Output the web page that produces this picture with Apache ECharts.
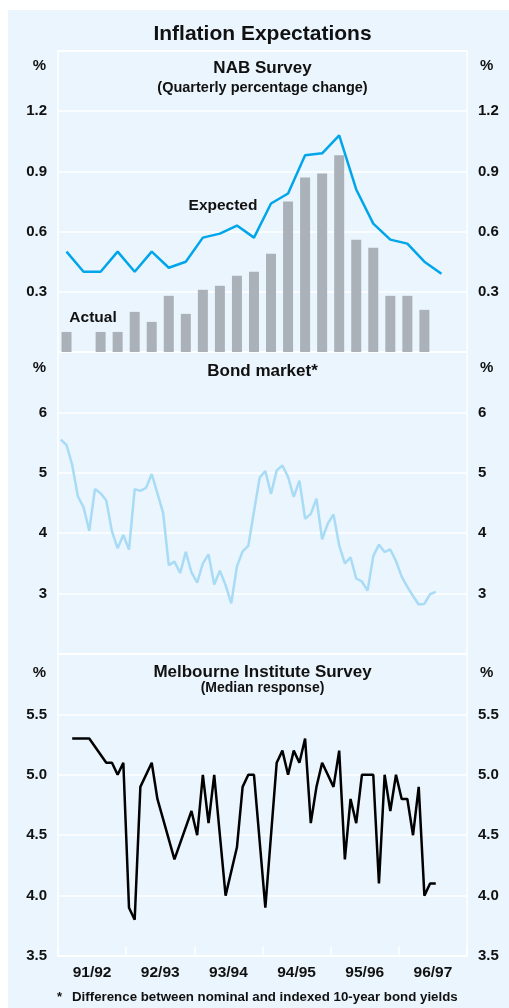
<!DOCTYPE html>
<html>
<head>
<meta charset="utf-8">
<script src="https://cdn.jsdelivr.net/npm/echarts@6/dist/echarts.min.js"></script>
<style>
  html, body { margin: 0; padding: 0; background: #ffffff; }
  #wrap { position: relative; width: 509px; height: 1008px; overflow: hidden; background: #ffffff; }
  #bg { position: absolute; left: 8px; top: 10px; right: 0; bottom: 0; background: #EBF5FD; }
  #chart { position: absolute; left: 0; top: 0; width: 509px; height: 1008px; }
</style>
</head>
<body>
<div id="wrap"><div id="bg"></div><div id="chart"></div></div>
<script>
// ---- Data ----
const fiscalYears = ['91/92', '92/93', '93/94', '94/95', '95/96', '96/97'];
const monthNames = ['Jul', 'Aug', 'Sep', 'Oct', 'Nov', 'Dec', 'Jan', 'Feb', 'Mar', 'Apr', 'May', 'Jun'];
const quarters = ['Sep-91', 'Dec-91', 'Mar-92', 'Jun-92', 'Sep-92', 'Dec-92', 'Mar-93', 'Jun-93',
  'Sep-93', 'Dec-93', 'Mar-94', 'Jun-94', 'Sep-94', 'Dec-94', 'Mar-95', 'Jun-95',
  'Sep-95', 'Dec-95', 'Mar-96', 'Jun-96', 'Sep-96', 'Dec-96', 'Mar-97', 'Jun-97'];

// NAB survey (quarterly % change)
const nabActual = [0.10, 0, 0.10, 0.10, 0.20, 0.15, 0.28, 0.19, 0.31, 0.33, 0.38, 0.40,
  0.49, 0.75, 0.87, 0.89, 0.98, 0.56, 0.52, 0.28, 0.28, 0.21, null, null];
const nabExpected = [0.50, 0.40, 0.40, 0.50, 0.40, 0.50, 0.42, 0.45, 0.57, 0.59, 0.63, 0.57,
  0.74, 0.79, 0.98, 0.99, 1.08, 0.81, 0.64, 0.56, 0.54, 0.45, 0.39, null];

// Bond market (monthly, from Jul-91)
const bondMarket = [5.55, 5.46, 5.13, 4.61, 4.43, 4.04, 4.73, 4.66, 4.54, 4.03, 3.75, 3.97,
  3.73, 4.73, 4.70, 4.75, 4.98, 4.66, 4.34, 3.47, 3.53, 3.34, 3.69, 3.35,
  3.18, 3.50, 3.65, 3.15, 3.38, 3.14, 2.84, 3.45, 3.70, 3.79, 4.36, 4.92,
  5.03, 4.65, 5.04, 5.12, 4.93, 4.60, 4.87, 4.24, 4.32, 4.57, 3.90, 4.16,
  4.31, 3.80, 3.50, 3.60, 3.25, 3.20, 3.05, 3.62, 3.81, 3.69, 3.73, 3.54,
  3.28, 3.11, 2.96, 2.82, 2.83, 2.99, 3.03, null, null, null, null, null];

// Melbourne Institute survey (median response, monthly from Jul-91; gaps = no survey)
const melbourne = [null, null, 5.3, null, null, 5.3, null, null, 5.1, 5.1, 5.0, 5.1,
  3.9, 3.8, 4.9, null, 5.1, 4.8, null, null, 4.3, null, null, 4.7,
  4.5, 5.0, 4.6, 5.0, null, 4.0, null, 4.4, 4.9, 5.0, 5.0, null,
  3.9, null, 5.1, 5.2, 5.0, 5.2, 5.1, 5.3, 4.6, 4.9, 5.1, null,
  4.9, 5.2, 4.3, 4.8, 4.6, 5.0, null, 5.0, 4.1, 5.0, 4.7, 5.0,
  4.8, 4.8, 4.5, 4.9, 4.0, 4.1, 4.1, null, null, null, null, null];

const months = [];
fiscalYears.forEach(function (fy) {
  monthNames.forEach(function (m) { months.push(m + ' ' + fy); });
});

// ---- Chart ----
const FONT = '"Liberation Sans", Arial, Helvetica, sans-serif';
const TXT = '#111111';
const chart = echarts.init(document.getElementById('chart'), null, { renderer: 'canvas' });

const gridBase = { left: 58, right: 42, show: true, borderColor: '#ffffff', borderWidth: 1.5, backgroundColor: 'transparent' };

function yAx(gridIndex, min, max, interval, pos, hideVals, decimals) {
  return {
    type: 'value', gridIndex: gridIndex, min: min, max: max, interval: interval, position: pos,
    axisLine: { show: false }, axisTick: { show: false },
    splitLine: { show: pos === 'left', lineStyle: { color: '#ffffff', width: 1.5 } },
    axisLabel: {
      margin: 11, color: TXT, fontFamily: FONT, fontWeight: 'bold', fontSize: 15,
      formatter: function (v) {
        for (let i = 0; i < hideVals.length; i++) { if (Math.abs(v - hideVals[i]) < 1e-9) return ''; }
        return v.toFixed(decimals);
      }
    }
  };
}

function txt(x, y, text, size, align) {
  return {
    type: 'text', x: x, y: y, silent: true,
    style: { text: text, fill: TXT, font: 'bold ' + size + 'px ' + FONT, textAlign: align || 'center', textVerticalAlign: 'middle' }
  };
}

const option = {
  animation: false,
  grid: [
    Object.assign({ top: 51, height: 301 }, gridBase),
    Object.assign({ top: 352, height: 302 }, gridBase),
    Object.assign({ top: 654, height: 302 }, gridBase)
  ],
  xAxis: [
    { type: 'category', gridIndex: 0, data: quarters, show: false },
    { type: 'category', gridIndex: 1, data: months, show: false },
    { type: 'category', gridIndex: 2, data: months, show: false },
    {
      type: 'category', gridIndex: 2, data: fiscalYears, position: 'bottom',
      axisLine: { show: false },
      axisTick: { show: true, inside: true, length: 9, interval: 0, lineStyle: { color: '#ffffff', width: 1.5 } },
      axisLabel: { margin: 9, color: TXT, fontFamily: FONT, fontWeight: 'bold', fontSize: 15.5, interval: 0 },
      splitLine: { show: false }
    }
  ],
  yAxis: [
    yAx(0, 0, 1.5, 0.3, 'left', [0, 1.5], 1),
    yAx(0, 0, 1.5, 0.3, 'right', [0, 1.5], 1),
    yAx(1, 2, 7, 1, 'left', [2, 7], 0),
    yAx(1, 2, 7, 1, 'right', [2, 7], 0),
    yAx(2, 3.5, 6, 0.5, 'left', [6], 1),
    yAx(2, 3.5, 6, 0.5, 'right', [6], 1)
  ],
  series: [
    { name: 'Actual', type: 'bar', xAxisIndex: 0, yAxisIndex: 0, data: nabActual, barWidth: 10,
      itemStyle: { color: '#AAB1B8' } },
    { name: 'Expected', type: 'line', xAxisIndex: 0, yAxisIndex: 0, data: nabExpected, showSymbol: false,
      lineStyle: { color: '#00A6E9', width: 2.5 }, itemStyle: { color: '#00A6E9' } },
    { name: 'Bond market', type: 'line', xAxisIndex: 1, yAxisIndex: 2, data: bondMarket, showSymbol: false,
      lineStyle: { color: '#A8DBF5', width: 2.5 }, itemStyle: { color: '#A8DBF5' } },
    { name: 'Melbourne Institute', type: 'line', xAxisIndex: 2, yAxisIndex: 4, data: melbourne, showSymbol: false,
      connectNulls: true, lineStyle: { color: '#000000', width: 2.5 }, itemStyle: { color: '#000000' } }
  ],
  graphic: [
    txt(262.5, 34, 'Inflation Expectations', 21),
    txt(262.5, 68, 'NAB Survey', 17),
    txt(262.5, 87.5, '(Quarterly percentage change)', 14.5),
    txt(262.5, 371, 'Bond market*', 17),
    txt(262.5, 672, 'Melbourne Institute Survey', 17),
    txt(262.5, 688.5, '(Median response)', 14),
    txt(46, 66, '%', 15, 'right'),
    txt(480, 66, '%', 15, 'left'),
    txt(46, 368, '%', 15, 'right'),
    txt(480, 368, '%', 15, 'left'),
    txt(46, 673, '%', 15, 'right'),
    txt(480, 673, '%', 15, 'left'),
    txt(223, 206, 'Expected', 15.5),
    txt(93, 318, 'Actual', 15.5),
    txt(57, 997, '*', 13, 'left'),
    txt(72, 997, 'Difference between nominal and indexed 10-year bond yields', 13.3, 'left')
  ]
};
chart.setOption(option);
</script>
</body>
</html>
